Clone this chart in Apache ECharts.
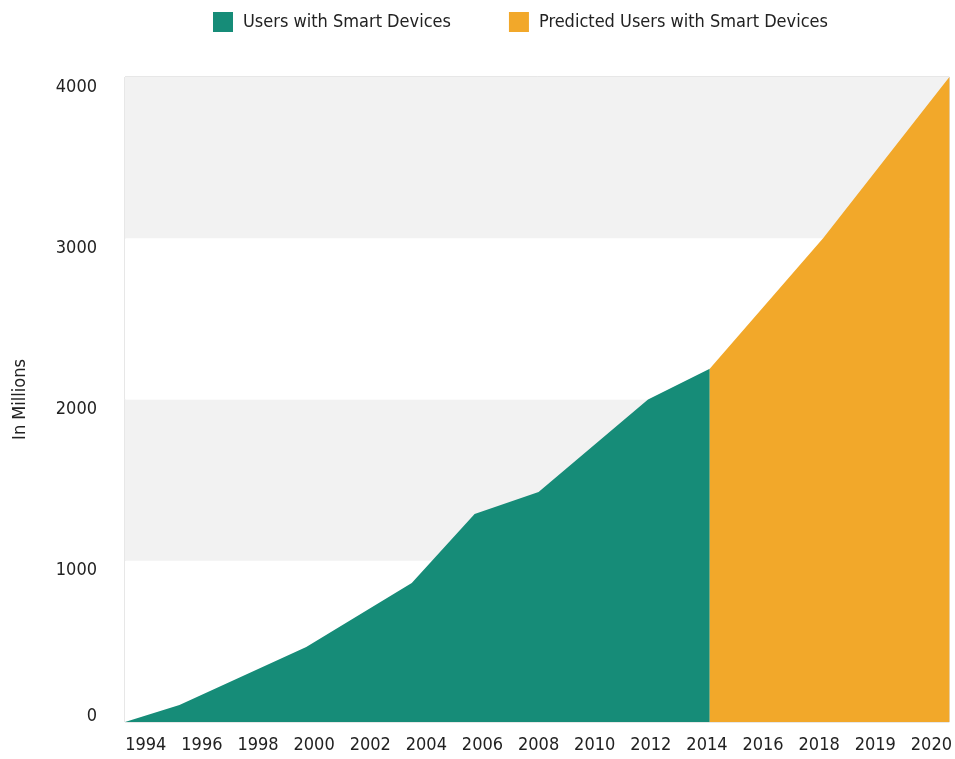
<!DOCTYPE html>
<html lang="en">
<head>
    <meta charset="UTF-8">
    <title>Users with Smart Devices</title>
    <style>
        * { margin: 0; padding: 0; box-sizing: border-box; }
        body { background: #fff; }
        #chart { width: 955px; height: 759px; }
    </style>
</head>
<body>
    <div id="chart"></div>

    <script src="https://cdn.jsdelivr.net/npm/echarts@6/dist/echarts.min.js"></script>
    <script>
    // tick labels sit at evenly spaced slots 0..14 (the axis is not linear in years)
    const tickLabels = ['1994', '1996', '1998', '2000', '2002', '2004', '2006', '2008',
                        '2010', '2012', '2014', '2016', '2018', '2019', '2020'];
    const tickSlots = tickLabels.map((_, i) => i);

    // [slot position, users in millions]
    const actualUsers = [
        [-0.37, 0], [0.6, 105], [2.86, 465], [4.74, 862], [5.86, 1290],
        [7.0, 1426], [8.95, 2000], [10.05, 2190]
    ];
    const predictedUsers = [
        [10.05, 2190], [12.07, 3000], [14.32, 4000]
    ];

    const FONT = '"Liberation Sans Narrow", "DejaVu Sans Condensed", sans-serif';
    const GREEN = '#168c78';
    const ORANGE = '#f2a82a';

    const chart = echarts.init(document.getElementById('chart'));

    chart.setOption({
        animation: false,
        textStyle: { fontFamily: FONT },
        legend: {
            top: 7,
            left: 208,
            icon: 'rect',
            itemWidth: 20,
            itemHeight: 20,
            itemGap: 58,
            textStyle: { fontFamily: FONT, fontSize: 18, color: '#222', padding: [0, 0, 0, 5] },
            data: ['Users with Smart Devices', 'Predicted Users with Smart Devices']
        },
        grid: {
            left: 125, right: 2, top: 77, bottom: 37,
            show: true, borderColor: '#cfcfcf', borderWidth: 1, backgroundColor: 'transparent'
        },
        xAxis: {
            type: 'value',
            min: -0.37,
            max: 14.32,
            splitLine: { show: false },
            axisLine: { show: false },
            axisTick: { show: false },
            axisLabel: {
                customValues: tickSlots,
                formatter: (v) => tickLabels[Math.round(v)],
                fontFamily: FONT,
                fontSize: 18,
                color: '#222',
                margin: 14
            }
        },
        yAxis: {
            type: 'value',
            min: 0,
            max: 4000,
            interval: 1000,
            name: 'In Millions',
            nameLocation: 'middle',
            nameGap: 96,
            nameTextStyle: { fontFamily: FONT, fontSize: 18, color: '#222' },
            axisLine: { show: false },
            axisTick: { show: false },
            splitLine: { show: false },
            splitArea: { show: true, areaStyle: { color: ['#ffffff', '#f2f2f2'] } },
            axisLabel: {
                // labels hang just below their gridline, except 0 which sits above the base
                formatter: (v) => (v === 0 ? '{z|0}' : '{t|' + v + '}'),
                fontFamily: FONT,
                fontSize: 18,
                color: '#222',
                margin: 28,
                rich: {
                    t: { fontFamily: FONT, fontSize: 18, color: '#222', padding: [20, 0, 0, 0] },
                    z: { fontFamily: FONT, fontSize: 18, color: '#222', padding: [0, 0, 12, 0] }
                }
            }
        },
        series: [
            {
                name: 'Users with Smart Devices',
                type: 'line',
                data: actualUsers,
                showSymbol: false,
                itemStyle: { color: GREEN },
                lineStyle: { width: 0 },
                areaStyle: { color: GREEN, opacity: 1 }
            },
            {
                name: 'Predicted Users with Smart Devices',
                type: 'line',
                data: predictedUsers,
                showSymbol: false,
                itemStyle: { color: ORANGE },
                lineStyle: { width: 0 },
                areaStyle: { color: ORANGE, opacity: 1 }
            }
        ]
    });

    window.addEventListener('resize', () => chart.resize());
    </script>
</body>
</html>
